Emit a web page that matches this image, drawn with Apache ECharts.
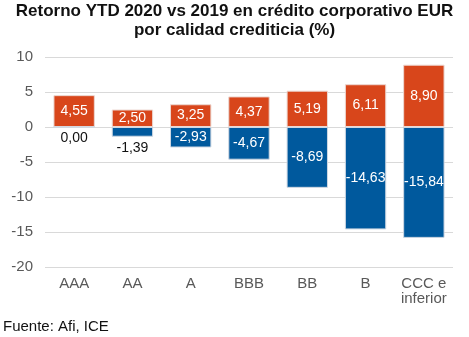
<!DOCTYPE html>
<html><head><meta charset="utf-8">
<script src="https://cdn.jsdelivr.net/npm/echarts@6/dist/echarts.min.js"></script>
<style>html,body{margin:0;padding:0;background:#fff}#c{width:469px;height:337px}</style>
</head><body><div id="c"></div>
<script>
const categories = ['AAA','AA','A','BBB','BB','B','CCC e\ninferior'];
const values2020 = [4.55, 2.50, 3.25, 4.37, 5.19, 6.11, 8.90];
const values2019 = [0.00, -1.39, -2.93, -4.67, -8.69, -14.63, -15.84];
const yTicks = {min: -20, max: 10, interval: 5};
const outsideLabel = [true, true, false, false, false, false, false];

const FF = 'Liberation Sans, Arial, sans-serif';
const fmt = v => v.toFixed(2).replace('.', ',');
const chart = echarts.init(document.getElementById('c'));
chart.setOption({
  animation: false,
  textStyle: {fontFamily: FF},
  title: [{
    text: 'Retorno YTD 2020 vs 2019 en crédito corporativo EUR\npor calidad crediticia (%)',
    left: 'center', top: 2, padding: [0, 0, 0, 6],
    textStyle: {fontSize: 17, fontWeight: 'bold', color: '#111', lineHeight: 19, fontFamily: FF}
  }, {
    text: 'Fuente: Afi, ICE', left: 3, top: 319, padding: 0,
    textStyle: {fontSize: 15, fontWeight: 'normal', color: '#111', fontFamily: FF}
  }],
  grid: {left: 45, right: 16, top: 57, height: 210},
  xAxis: {
    type: 'category', data: categories,
    axisLine: {show: false}, axisTick: {show: false},
    axisLabel: {color: '#595959', fontSize: 15, margin: 9, lineHeight: 15, interval: 0}
  },
  yAxis: {
    type: 'value', min: yTicks.min, max: yTicks.max, interval: yTicks.interval,
    axisLabel: {color: '#595959', fontSize: 15, margin: 12},
    splitLine: {lineStyle: {color: '#d9d9d9'}}
  },
  series: [{
    name: '2020', type: 'bar', stack: 's', stackStrategy: 'negative', barWidth: '71%',
    itemStyle: {color: '#D8461B', borderColor: '#ecd8d2', borderWidth: 1},
    label: {show: true, position: 'inside', color: '#fff', fontSize: 14, formatter: p => fmt(p.value)},
    data: values2020
  }, {
    name: '2019', type: 'bar', stack: 's', stackStrategy: 'negative', barWidth: '71%',
    itemStyle: {color: '#00599D', borderColor: '#cfd8e3', borderWidth: 1},
    label: {show: true, position: 'inside', color: '#fff', fontSize: 14, formatter: p => fmt(p.value)},
    data: values2019.map((v, i) => outsideLabel[i]
      ? {value: v, label: {position: 'bottom', color: '#111', distance: 4}}
      : v)
  }]
});
</script></body></html>
